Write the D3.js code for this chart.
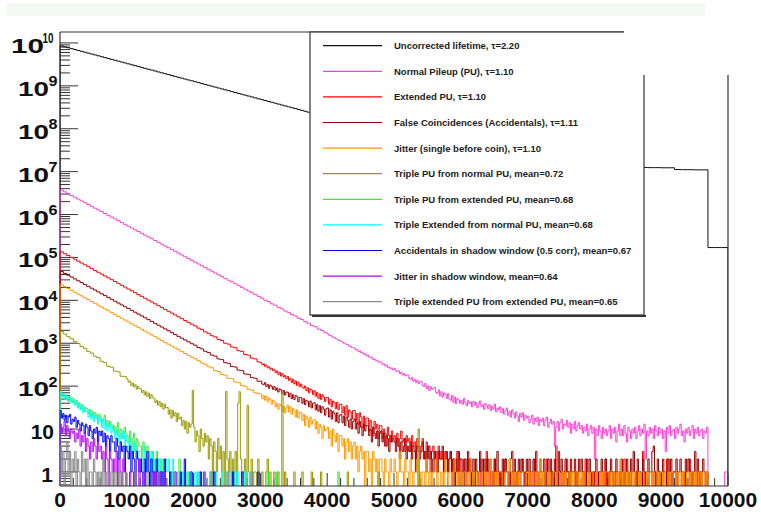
<!DOCTYPE html>
<html>
<head>
<meta charset="utf-8">
<script src="https://cdn.jsdelivr.net/npm/d3@7"></script>
<style>
  html, body { margin: 0; padding: 0; background: #fff; }
  svg { display: block; }
</style>
</head>
<body>
<svg id="chart" width="761" height="512"></svg>
<script>
// ---------------------------------------------------------------------------
// Decay-time spectra, counts per bin on a log scale.
// Each spectrum is stored as runs of bins: a start time, a bin width and the
// counts; isolated late bins are listed as [start, count].
// ---------------------------------------------------------------------------
const xTickValues = [0, 1000, 2000, 3000, 4000, 5000, 6000, 7000, 8000, 9000, 10000];
const yDecades = [0, 1, 2, 3, 4, 5, 6, 7, 8, 9, 10];

const legendLabels = [
  "Uncorrected lifetime, \u03c4=2.20",
  "Normal Pileup (PU), \u03c4=1.10",
  "Extended PU, \u03c4=1.10",
  "False Coincidences (Accidentals), \u03c4=1.11",
  "Jitter (single before coin), \u03c4=1.10",
  "Triple PU from normal PU, mean=0.72",
  "Triple PU from extended PU, mean=0.68",
  "Triple Extended from normal PU, mean=0.68",
  "Accidentals in shadow window (0.5 corr), mean=0.67",
  "Jitter in shadow window, mean=0.64",
  "Triple extended PU from extended PU, mean=0.65"
];

// Uncorrected lifetime: 50-wide bins 0..3800, 100-wide bins 3800..10000
const uncorrectedEarly = [
  8.51e9, 8.11e9, 7.73e9, 7.37e9, 7.02e9, 6.69e9, 6.38e9, 6.08e9, 5.80e9, 5.52e9,
  5.26e9, 5.02e9, 4.78e9, 4.56e9, 4.35e9, 4.14e9, 3.95e9, 3.76e9, 3.59e9, 3.42e9,
  3.26e9, 3.10e9, 2.96e9, 2.82e9, 2.69e9, 2.56e9, 2.44e9, 2.33e9, 2.22e9, 2.11e9,
  2.01e9, 1.92e9, 1.83e9, 1.74e9, 1.66e9, 1.58e9, 1.51e9, 1.44e9, 1.37e9, 1.31e9,
  1.25e9, 1.19e9, 1.13e9, 1.08e9, 1.03e9, 9.80e8, 9.34e8, 8.90e8, 8.49e8, 8.09e8,
  7.71e8, 7.35e8, 7.00e8, 6.67e8, 6.36e8, 6.06e8, 5.78e8, 5.51e8, 5.25e8, 5.00e8,
  4.77e8, 4.54e8, 4.33e8, 4.13e8, 3.93e8, 3.75e8, 3.57e8, 3.40e8, 3.24e8, 3.09e8,
  2.95e8, 2.81e8, 2.68e8, 2.55e8, 2.43e8, 2.32e8
];
const uncorrectedLate = [
  2.24e8, 2.11e8, 1.99e8, 1.88e8, 1.77e8, 1.67e8, 1.57e8, 1.48e8, 1.40e8, 1.32e8,
  1.24e8, 1.17e8, 1.11e8, 1.04e8, 9.84e7, 9.28e7, 8.75e7, 8.25e7, 7.78e7, 7.34e7,
  6.92e7, 6.52e7, 6.15e7, 5.80e7, 5.47e7, 5.16e7, 4.86e7, 4.59e7, 4.33e7, 4.08e7,
  3.85e7, 3.63e7, 3.42e7, 3.23e7, 3.04e7, 2.87e7, 2.70e7, 2.55e7, 2.40e7, 2.27e7,
  2.14e7, 2.02e7, 1.90e7, 1.79e7, 1.69e7, 1.59e7, 1.50e7, 1.42e7, 1.34e7, 1.25e7,
  1.24e7, 1.24e7, 1.23e7, 1.23e7, 1.12e7, 1.11e7, 1.11e7, 1.10e7, 1.10e7, 1.7e5,
  1.7e5, 1.7e5
];

// Normal pileup: 50-wide bins 0..4000, 20-wide bins 4000..9700
const normalPileupMain = [
  3.72e6, 3.38e6, 3.07e6, 2.78e6, 2.53e6, 2.29e6, 2.08e6, 1.89e6, 1.72e6, 1.56e6,
  1.41e6, 1.28e6, 1.17e6, 1.06e6, 9.60e5, 8.72e5, 7.92e5, 7.19e5, 6.52e5, 5.92e5,
  5.37e5, 4.87e5, 4.43e5, 4.02e5, 3.65e5, 3.31e5, 3.01e5, 2.73e5, 2.48e5, 2.25e5,
  2.04e5, 1.85e5, 1.68e5, 1.53e5, 1.39e5, 1.26e5, 1.14e5, 1.04e5, 9.42e4, 8.55e4,
  7.76e4, 7.04e4, 6.40e4, 5.81e4, 5.27e4, 4.78e4, 4.34e4, 3.94e4, 3.58e4, 3.25e4,
  2.95e4, 2.68e4, 2.43e4, 2.21e4, 2.00e4, 1.82e4, 1.65e4, 1.50e4, 1.36e4, 1.24e4,
  11200, 10100, 9350, 8290, 7700, 6850, 6330, 5620, 5240, 4640,
  4310, 3820, 3560, 3150, 2940, 2580, 2420, 2130, 1990, 1750
];
const normalPileupTail = [
  1660, 1540, 1520, 1460, 1370, 1350, 1260, 1250, 1170, 1160,
  1120, 1070, 1000, 995, 930, 925, 850, 860, 790, 782,
  775, 700, 715, 640, 668, 596, 612, 552, 571, 510,
  530, 478, 461, 470, 421, 430, 392, 401, 362, 371,
  360, 322, 328, 297, 310, 274, 281, 258, 266, 238,
  256, 226, 218, 229, 196, 210, 182, 198, 174, 181,
  182, 152, 146, 160, 131, 142, 122, 138, 115, 126,
  130, 104, 98, 115, 88, 101, 79, 97, 84, 90,
  93, 71, 68, 82, 59, 74, 56, 70, 64, 52,
  67, 50, 47, 61, 42, 56, 39, 52, 48, 40,
  47, 38, 52, 41, 35, 46, 39, 43, 33, 44,
  36, 42, 31, 39, 45, 33, 37, 29, 40, 35,
  30, 37, 27, 34, 29, 38, 25, 31, 28, 33,
  24, 30, 22, 27, 31, 21, 26, 19, 28, 23,
  18, 25, 20, 15, 23, 19, 24, 16, 21, 18,
  20, 14, 17, 21, 13, 18, 15, 19, 12, 17,
  15, 18, 12, 16, 19, 11, 14, 17, 13, 15,
  4, 11, 15, 9, 14, 17, 10, 13, 12, 16,
  11, 14, 8, 13, 10, 15, 9, 12, 14, 10,
  12, 8, 11, 9, 13, 7, 10, 12, 8, 11,
  2, 10, 7, 12, 9, 6, 11, 8, 10, 7,
  9, 12, 6, 10, 8, 11, 5, 9, 13, 7,
  10, 7, 12, 8, 5, 11, 9, 6, 10, 8,
  11, 6, 9, 12, 7, 10, 8, 13, 2, 9,
  7, 11, 8, 10, 6, 12, 9, 7, 11, 8,
  10, 6, 9, 3, 11, 8, 12, 7, 9, 10,
  6, 11, 8, 10, 13, 7, 9, 5, 10, 8,
  11, 7, 9, 12, 6, 10, 8, 11, 7, 9,
  10, 6, 9, 8, 11
];
const normalPileupLate = [[9950, 1]];

// Extended PU: 50-wide bins 0..3000, 20-wide bins 3000..9700
const extendedPileupMain = [
  1.35e5, 1.22e5, 1.11e5, 1.00e5, 9.07e4, 8.21e4, 7.43e4, 6.73e4, 6.09e4, 5.51e4,
  4.99e4, 4.52e4, 4.09e4, 3.70e4, 3.35e4, 3.03e4, 2.75e4, 2.49e4, 2.25e4, 2.04e4,
  1.84e4, 1.67e4, 1.51e4, 1.36e4, 1.24e4, 1.12e4, 1.01e4, 9170, 8300, 7510,
  6800, 6160, 5570, 5050, 4570, 4130, 3740, 3390, 3070, 2780,
  2540, 2250, 2090, 1840, 1710, 1500, 1410, 1230, 1160, 1000,
  955, 820, 785, 670, 645, 548, 528, 450, 432, 368
];
const extendedPileupTail = [
  355, 318, 331, 290, 309, 268, 284, 247, 262, 231,
  241, 205, 226, 188, 210, 172, 195, 163, 179, 150,
  168, 136, 152, 122, 145, 113, 132, 104, 124, 98,
  112, 94, 89, 101, 78, 92, 70, 86, 81, 64,
  78, 58, 71, 52, 66, 49, 63, 56, 44, 54,
  55, 38, 49, 33, 45, 41, 30, 42, 28, 37,
  38, 24, 33, 21, 35, 19, 28, 25, 17, 27,
  27, 15, 23, 13, 24, 19, 11, 20, 12, 18,
  18, 9, 16, 11, 7, 15, 10, 13, 6, 12,
  12, 6, 10, 8, 4, 11, 7, 5, 9, 6,
  7, 5, 8, 4, 6, 9, 5, 6, 3, 7,
  5, 6, 3, 7, 4, 5, 2, 6, 4, 3,
  4, 6, 3, 2, 5, 3, 4, 1, 3, 4,
  2, 3, 1, 4, 2, 3, 2, 1, 3, 2,
  1, 2, 3, 0, 2, 1, 1, 3, 0, 2,
  1, 0, 2, 1, 0, 1, 2, 0, 1, 1,
  0, 1, 1, 0, 2, 0, 1, 0, 1, 3,
  1, 0, 1, 1, 0, 2, 0, 1, 0, 1,
  0, 1, 0, 2, 1, 0, 1, 0, 1, 0,
  1, 0, 1, 0, 0, 1, 2, 0, 1, 0,
  0, 1, 0, 1, 0, 2, 0, 1, 0, 1,
  1, 0, 0, 1, 2, 0, 1, 0, 1, 0,
  0, 4, 1, 0, 1, 0, 0, 1, 0, 2,
  1, 0, 1, 0, 0, 1, 0, 1, 0, 0,
  0, 1, 0, 2, 0, 0, 1, 0, 1, 0,
  1, 0, 0, 1, 0, 1, 0, 0, 2, 0,
  0, 1, 0, 0, 1, 0, 1, 0, 0, 1,
  1, 0, 2, 0, 0, 1, 0, 1, 0, 0,
  0, 1, 0, 1, 0, 0, 3, 0, 1, 0,
  1, 0, 0, 1, 0, 1, 0, 0, 1, 0,
  0, 1, 0, 0, 2, 0, 1, 0, 0, 1,
  1, 0, 1, 0, 0, 1, 0, 0, 1, 0,
  0, 2, 0, 1, 0, 0, 1, 0, 1, 0,
  1, 0, 0, 1, 0
];

// False coincidences: 50-wide bins 0..3000, 20-wide bins 3000..9700
const falseCoincMain = [
  4.70e4, 4.25e4, 3.85e4, 3.49e4, 3.16e4, 2.86e4, 2.59e4, 2.34e4, 2.12e4, 1.92e4,
  1.74e4, 1.57e4, 1.42e4, 1.29e4, 1.17e4, 1.06e4, 9560, 8650, 7830, 7090,
  6460, 5850, 5290, 4790, 4340, 3930, 3550, 3220, 2910, 2640,
  2390, 2160, 1960, 1770, 1600, 1450, 1310, 1190, 1080, 975,
  900, 795, 742, 650, 610, 530, 502, 432, 415, 352,
  340, 288, 279, 236, 229, 192, 188, 158, 153, 130
];
const falseCoincTail = [
  131, 112, 108, 121, 98, 110, 89, 106, 99, 84,
  97, 80, 91, 73, 86, 82, 66, 79, 62, 73,
  72, 56, 68, 51, 63, 49, 60, 58, 43, 55,
  54, 40, 51, 37, 47, 44, 33, 45, 31, 40,
  41, 28, 37, 26, 35, 24, 33, 29, 21, 30,
  31, 19, 28, 17, 26, 23, 15, 24, 14, 21,
  22, 14, 20, 12, 19, 16, 11, 17, 10, 15,
  17, 10, 14, 8, 15, 11, 7, 13, 9, 12,
  12, 7, 10, 5, 11, 8, 6, 9, 4, 8,
  9, 5, 8, 4, 7, 6, 3, 7, 5, 6,
  5, 3, 6, 4, 2, 5, 3, 4, 6, 2,
  4, 3, 5, 2, 4, 3, 1, 4, 3, 2,
  3, 5, 2, 3, 1, 4, 2, 3, 2, 1,
  3, 2, 1, 3, 2, 2, 4, 1, 2, 3,
  1, 2, 3, 1, 2, 0, 2, 1, 3, 2,
  2, 1, 0, 2, 1, 3, 1, 2, 0, 2,
  1, 2, 1, 0, 3, 1, 2, 1, 2, 0,
  2, 1, 2, 1, 0, 2, 1, 3, 1, 1,
  0, 2, 1, 2, 1, 1, 0, 2, 3, 1,
  2, 0, 1, 2, 1, 2, 1, 0, 1, 2,
  1, 2, 0, 1, 2, 1, 3, 1, 0, 2,
  1, 1, 2, 0, 1, 2, 1, 2, 1, 0,
  2, 1, 0, 3, 1, 2, 0, 1, 2, 1,
  1, 0, 2, 1, 1, 2, 1, 0, 2, 1,
  2, 1, 1, 0, 2, 1, 2, 1, 0, 1,
  1, 2, 0, 1, 1, 2, 1, 0, 2, 1,
  0, 1, 2, 1, 0, 1, 2, 1, 1, 0,
  2, 1, 0, 1, 2, 1, 0, 2, 1, 3,
  1, 0, 2, 1, 1, 0, 2, 1, 0, 1,
  2, 1, 1, 3, 4, 1, 0, 2, 1, 1,
  0, 2, 1, 1, 0, 2, 1, 2, 0, 1,
  1, 2, 0, 1, 2, 1, 1, 0, 2, 1,
  2, 1, 1, 0, 1, 3, 1, 2, 0, 1,
  1, 2, 1, 0, 1
];

// Jitter (single before coin): 50-wide bins 0..3000, 20-wide bins 3000..9700
const jitterMain = [
  2.30e4, 2.08e4, 1.88e4, 1.71e4, 1.54e4, 1.40e4, 1.27e4, 1.15e4, 1.04e4, 9390,
  8500, 7700, 6970, 6310, 5710, 5170, 4680, 4230, 3830, 3470,
  3140, 2840, 2570, 2330, 2110, 1910, 1730, 1560, 1420, 1280,
  1160, 1050, 951, 861, 779, 706, 639, 578, 523, 474,
  436, 392, 346, 324, 283, 268, 229, 220, 188, 180,
  152, 149, 126, 121, 103, 99, 84, 81, 70, 67
];
const jitterTail = [
  66, 51, 60, 47, 58, 43, 53, 49, 38, 47,
  44, 33, 40, 29, 38, 35, 26, 34, 24, 31,
  36, 25, 33, 22, 30, 27, 19, 28, 18, 25,
  24, 16, 22, 12, 20, 17, 11, 19, 13, 16,
  17, 10, 15, 8, 13, 11, 6, 12, 9, 10,
  11, 6, 9, 4, 10, 7, 5, 8, 3, 7,
  7, 4, 6, 2, 5, 6, 3, 5, 2, 4,
  5, 2, 4, 1, 3, 4, 2, 3, 0, 3,
  3, 1, 2, 0, 3, 2, 1, 2, 0, 2,
  2, 1, 0, 2, 1, 1, 0, 2, 1, 1,
  2, 1, 0, 1, 3, 1, 1, 0, 2, 1,
  1, 0, 2, 1, 0, 1, 1, 2, 0, 1,
  0, 1, 1, 0, 2, 1, 0, 1, 0, 1,
  1, 2, 0, 1, 1, 0, 1, 0, 2, 1,
  0, 1, 1, 0, 1, 2, 1, 0, 1, 0,
  1, 0, 1, 1, 0, 1, 0, 2, 1, 0,
  1, 1, 0, 1, 0, 0, 1, 1, 0, 1,
  0, 1, 2, 0, 1, 0, 1, 0, 1, 1,
  1, 0, 0, 1, 1, 0, 2, 1, 0, 1,
  0, 1, 0, 1, 0, 1, 1, 0, 0, 1,
  1, 0, 1, 0, 1, 1, 0, 1, 0, 2,
  0, 1, 0, 1, 1, 0, 1, 0, 0, 1,
  1, 0, 1, 1, 0, 0, 1, 0, 1, 0,
  0, 1, 0, 1, 0, 1, 1, 0, 1, 0,
  1, 0, 1, 0, 0, 1, 0, 1, 1, 0,
  0, 1, 0, 0, 1, 0, 1, 0, 1, 1,
  1, 0, 1, 0, 1, 0, 0, 1, 0, 2,
  0, 1, 0, 1, 0, 1, 0, 1, 1, 0,
  1, 0, 0, 1, 0, 1, 1, 0, 0, 1,
  0, 1, 1, 0, 1, 0, 0, 1, 0, 1,
  1, 0, 1, 0, 0, 1, 0, 1, 1, 0,
  0, 1, 0, 1, 1, 0, 1, 0, 0, 1,
  1, 0, 1, 0, 1, 0, 1, 1, 0, 1,
  0, 1, 1, 0, 1
];

// Triple PU from normal PU: 50-wide bins 0..1000, 20-wide bins 1000..3400
const tripleNormalMain = [
  1862, 1640, 1420, 1275, 1090, 985, 840, 762, 645, 590,
  498, 462, 380, 355, 290, 276, 224, 215, 170, 166
];
const tripleNormalTail = [
  145, 124, 131, 102, 118, 96, 108, 85, 99, 88,
  86, 71, 79, 62, 74, 58, 69, 51, 63, 55,
  52, 41, 47, 36, 44, 33, 40, 29, 38, 31,
  32, 22, 28, 18, 27, 20, 24, 15, 23, 17,
  19, 12, 16, 10, 15, 8, 14, 11, 13, 80,
  11, 5, 9, 7, 3, 10, 6, 4, 8, 5,
  7, 2, 6, 4, 0, 5, 3, 1, 6, 2,
  4, 1, 3, 0, 75, 2, 1, 3, 0, 2,
  1, 3, 0, 40, 74, 2, 0, 1, 2, 0,
  36, 1, 0, 2, 0, 1, 1, 0, 2, 0,
  0, 1, 0, 0, 1, 2, 0, 1, 0, 0,
  1, 0, 0, 1, 0, 0, 70, 0, 1, 0
];
const tripleNormalLate = [[3500, 1], [3620, 1], [3760, 1], [3900, 1], [4300, 1], [4760, 1], [5360, 10]];

// Triple PU from extended PU: 20-wide bins 0..1600
const tripleExtendedMain = [
  72, 58, 66, 49, 61, 52, 44, 57, 47, 41,
  49, 38, 45, 33, 41, 29, 37, 34, 26, 31,
  30, 23, 28, 20, 26, 18, 24, 21, 16, 22,
  19, 14, 17, 21, 12, 16, 11, 15, 13, 10,
  12, 8, 11, 14, 7, 10, 9, 6, 11, 8,
  7, 5, 9, 4, 6, 8, 3, 6, 5, 4,
  4, 2, 5, 3, 1, 4, 3, 2, 0, 3,
  2, 1, 3, 0, 2, 1, 0, 2, 1, 0
];
const tripleExtendedLate = [[1660, 1], [1780, 2], [1900, 1], [2060, 1], [2240, 1], [2420, 1],
                            [2600, 1], [2780, 1], [3100, 1], [3240, 1], [4160, 1]];

// Triple extended from normal PU: 20-wide bins 0..2900
const tripleExtNormalMain = [
  75, 61, 68, 52, 63, 47, 57, 50, 41, 53,
  42, 36, 47, 31, 39, 28, 35, 24, 32, 27,
  25, 19, 28, 17, 23, 15, 21, 18, 13, 19,
  15, 11, 17, 10, 14, 9, 12, 13, 8, 11,
  9, 6, 10, 7, 5, 8, 6, 9, 4, 7,
  5, 3, 6, 4, 2, 5, 3, 4, 2, 3,
  3, 1, 2, 4, 1, 2, 2, 0, 3, 1,
  2, 1, 0, 2, 1, 2, 1, 0, 1, 2,
  1, 2, 1, 0, 2, 1, 1, 0, 1, 1,
  0, 1, 0, 1, 0, 0, 1, 0, 1, 0,
  0, 1, 0, 0, 1, 0, 0, 0, 1, 0,
  0, 0, 1, 0, 0, 0, 1, 0, 0, 0,
  0, 1, 0, 0, 0, 1, 0, 1, 1, 0,
  1, 1, 0, 1, 0, 0, 0, 0, 1, 0,
  0, 0, 1, 0, 0
];

// Accidentals in shadow window: 20-wide bins 0..1600
const accShadowMain = [
  27, 18, 23, 16, 21, 14, 19, 22, 13, 17,
  15, 19, 11, 16, 13, 9, 14, 12, 8, 13,
  11, 7, 12, 9, 6, 10, 8, 11, 5, 9,
  7, 9, 5, 8, 4, 7, 6, 3, 7, 5,
  5, 3, 6, 4, 2, 5, 3, 4, 1, 4,
  3, 2, 4, 1, 3, 2, 0, 3, 2, 1,
  2, 1, 0, 2, 1, 3, 1, 0, 2, 1,
  1, 0, 2, 1, 0, 1, 1, 0, 2, 0
];
const accShadowLate = [[1640, 1], [1800, 1], [1860, 2], [1960, 1], [2100, 1], [2300, 1],
                       [2580, 1], [2720, 1], [2960, 1]];

// Jitter in shadow window: 20-wide bins 0..1000
const jitterShadowMain = [
  13, 8, 11, 15, 7, 12, 9, 6, 10, 8,
  9, 5, 8, 6, 10, 4, 7, 5, 8, 3,
  6, 4, 2, 5, 3, 6, 4, 2, 5, 3,
  4, 2, 3, 1, 4, 2, 0, 3, 2, 1,
  2, 1, 3, 0, 2, 1, 0, 2, 1, 0
];
const jitterShadowLate = [[1040, 1], [1100, 1], [1180, 2], [1260, 1], [1380, 1], [1420, 1],
                          [1500, 1], [1560, 1], [1720, 1], [2150, 1]];

// Triple extended PU from extended PU: 20-wide bins 0..1000
const tripleExtExtMain = [
  4, 1, 3, 0, 2, 5, 1, 3, 0, 2,
  1, 3, 0, 2, 1, 0, 3, 1, 2, 0,
  2, 0, 1, 1, 0, 2, 1, 0, 1, 0,
  1, 0, 2, 0, 1, 0, 0, 1, 0, 1,
  0, 1, 0, 0, 1, 0, 1, 0, 0, 1
];
const tripleExtExtLate = [[1120, 1], [1300, 1], [1460, 1], [1700, 1], [1940, 1], [2260, 1],
                          [2500, 1], [2860, 1]];

// ---------------------------------------------------------------------------
// Styling and assembly
// ---------------------------------------------------------------------------
const seriesColors = [
  "#111111", "#ff40d0", "#ff0000", "#990000", "#ff9900", "#999900",
  "#33ee33", "#00ffff", "#0000ff", "#b800ff", "#888888"
];

const run = (start, width, values) => ({ start, width, values });
const late = (width, list) => list.map(([s, v]) => run(s, width, [v]));

const seriesRuns = [
  [run(0, 50, uncorrectedEarly), run(3800, 100, uncorrectedLate)],
  [run(0, 50, normalPileupMain), run(4000, 20, normalPileupTail), ...late(50, normalPileupLate)],
  [run(0, 50, extendedPileupMain), run(3000, 20, extendedPileupTail)],
  [run(0, 50, falseCoincMain), run(3000, 20, falseCoincTail)],
  [run(0, 50, jitterMain), run(3000, 20, jitterTail)],
  [run(0, 50, tripleNormalMain), run(1000, 20, tripleNormalTail), ...late(20, tripleNormalLate)],
  [run(0, 20, tripleExtendedMain), ...late(20, tripleExtendedLate)],
  [run(0, 20, tripleExtNormalMain)],
  [run(0, 20, accShadowMain), ...late(20, accShadowLate)],
  [run(0, 20, jitterShadowMain), ...late(20, jitterShadowLate)],
  [run(0, 20, tripleExtExtMain), ...late(20, tripleExtExtLate)]
];

const series = seriesRuns.map((runs, i) => ({
  runs, label: legendLabels[i], color: seriesColors[i]
}));

// ---------------------------------------------------------------------------
// Layout
// ---------------------------------------------------------------------------
const frame = { left: 60, right: 728, top: 32, bottom: 486 };
const svg = d3.select("#chart");

const x = d3.scaleLinear().domain([0, 10000]).range([frame.left, frame.right]);
const y = d3.scaleLog().domain([0.47, 1.8e10]).range([frame.bottom, frame.top]);
const yZero = frame.bottom + 2;   // empty bins fall below the frame

// light header band
svg.append("rect")
  .attr("x", 7).attr("y", 3).attr("width", 698).attr("height", 13)
  .attr("fill", "#f3f8f4");

// left axis line (beneath the histograms)
svg.append("line")
  .attr("x1", frame.left).attr("x2", frame.left)
  .attr("y1", frame.top).attr("y2", frame.bottom)
  .attr("stroke", "#333").attr("stroke-width", 1.2);

// y ticks: majors at decades, minors at 2..9
const yMinor = [];
for (let k = -1; k <= 10; k++) {
  for (let m = 2; m <= 9; m++) {
    const v = m * Math.pow(10, k);
    if (v >= y.domain()[0] && v <= y.domain()[1]) yMinor.push(v);
  }
}
const axisG = svg.append("g").attr("stroke", "#333").attr("stroke-width", 1);
axisG.selectAll("line.ymaj").data(yDecades).join("line")
  .attr("x1", frame.left).attr("x2", frame.left + 18)
  .attr("y1", d => y(Math.pow(10, d))).attr("y2", d => y(Math.pow(10, d)));
axisG.selectAll("line.ymin").data(yMinor).join("line")
  .attr("x1", frame.left).attr("x2", frame.left + 10)
  .attr("y1", d => y(d)).attr("y2", d => y(d));

// x ticks: majors every 1000, minors every 200
axisG.selectAll("line.xt").data(d3.range(0, 10001, 200)).join("line")
  .attr("x1", d => x(d)).attr("x2", d => x(d))
  .attr("y1", frame.bottom)
  .attr("y2", d => frame.bottom - (d % 1000 === 0 ? 13 : 8));

// ---------------------------------------------------------------------------
// Histograms (step outlines; empty bins drop to the frame bottom)
// ---------------------------------------------------------------------------
svg.append("clipPath").attr("id", "plotClip")
  .append("rect")
  .attr("x", frame.left - 0.5).attr("y", frame.top)
  .attr("width", frame.right - frame.left + 0.5)
  .attr("height", frame.bottom - frame.top);

function stepPoints(runs) {
  const bins = runs.flatMap(r => r.values.map((v, i) => ({
    x0: r.start + i * r.width, x1: r.start + (i + 1) * r.width, v
  }))).sort((a, b) => a.x0 - b.x0);
  const pts = [[x(bins[0].x0), yZero]];
  let prevEnd = bins[0].x0;
  bins.forEach(b => {
    if (b.x0 > prevEnd + 1e-6) {
      pts.push([x(prevEnd), yZero], [x(b.x0), yZero]);
    }
    const yy = b.v > 0 ? y(b.v) : yZero;
    pts.push([x(b.x0), yy], [x(b.x1), yy]);
    prevEnd = b.x1;
  });
  pts.push([x(prevEnd), yZero]);
  return pts;
}

const line = d3.line();
const histG = svg.append("g").attr("clip-path", "url(#plotClip)");
histG.selectAll("path").data(series).join("path")
  .attr("d", d => line(stepPoints(d.runs)))
  .attr("fill", "none")
  .attr("stroke", d => d.color)
  .attr("stroke-width", 1);

// remaining frame lines
const frameG = svg.append("g").attr("stroke", "#333").attr("stroke-width", 1.2);
frameG.append("line")
  .attr("x1", frame.left).attr("x2", frame.right)
  .attr("y1", frame.bottom).attr("y2", frame.bottom);
frameG.append("line")
  .attr("x1", frame.right).attr("x2", frame.right)
  .attr("y1", frame.top).attr("y2", frame.bottom);
frameG.append("line")
  .attr("x1", frame.left).attr("x2", frame.right)
  .attr("y1", frame.top).attr("y2", frame.top);

// ---------------------------------------------------------------------------
// Legend
// ---------------------------------------------------------------------------
const legend = { x: 310, y: 32, w: 334, h: 283, rowTop: 45.7, rowStep: 25.6 };
const legG = svg.append("g");
legG.append("rect")
  .attr("x", legend.x + 2).attr("y", legend.y + legend.h)
  .attr("width", legend.w).attr("height", 2)
  .attr("fill", "#333");
legG.append("rect")
  .attr("x", legend.x).attr("y", legend.y)
  .attr("width", legend.w).attr("height", legend.h)
  .attr("fill", "#fff").attr("stroke", "#333").attr("stroke-width", 1.2);

const rows = legG.selectAll("g.row").data(series).join("g")
  .attr("transform", (d, i) => `translate(0, ${legend.rowTop + i * legend.rowStep})`);
rows.append("line")
  .attr("x1", 323).attr("x2", 382).attr("y1", 0).attr("y2", 0)
  .attr("stroke", d => d.color).attr("stroke-width", 1.2);
rows.append("text")
  .attr("x", 394).attr("y", 3.4)
  .attr("font-family", "'Liberation Sans', Arial, sans-serif")
  .attr("font-weight", "bold").attr("font-size", 9.5)
  .attr("fill", "#222")
  .text(d => d.label);

// ---------------------------------------------------------------------------
// Tick labels
// ---------------------------------------------------------------------------
const labG = svg.append("g")
  .attr("font-family", "'Liberation Sans', Arial, Helvetica, sans-serif")
  .attr("font-weight", "bold").attr("fill", "#111");

labG.selectAll("text.xl").data(xTickValues).join("text")
  .attr("x", d => x(d)).attr("y", 507)
  .attr("text-anchor", "middle").attr("font-size", 21)
  .text(d => d3.format("d")(d));

yDecades.forEach(k => {
  const ty = y(Math.pow(10, k));
  if (k === 0 || k === 1) {
    labG.append("text")
      .attr("x", k === 0 ? 53 : 54).attr("y", ty + 10)
      .attr("text-anchor", "end").attr("font-size", 21)
      .text(k === 0 ? "1" : "10");
  } else {
    const wide = k >= 10;
    labG.append("text")
      .attr("x", wide ? 11 : 18).attr("y", ty + 10)
      .attr("font-size", 21)
      .attr("textLength", wide ? 33 : 31).attr("lengthAdjust", "spacingAndGlyphs")
      .text("10");
    labG.append("text")
      .attr("x", wide ? 42.5 : 48.5).attr("y", ty + 0.5)
      .attr("font-size", 14)
      .attr("textLength", wide ? 11 : 9).attr("lengthAdjust", "spacingAndGlyphs")
      .text(String(k));
  }
});

// blank panel over the upper right corner
svg.append("rect")
  .attr("x", 624).attr("y", 18).attr("width", 137).attr("height", 57)
  .attr("fill", "#fff");
</script>
</body>
</html>
